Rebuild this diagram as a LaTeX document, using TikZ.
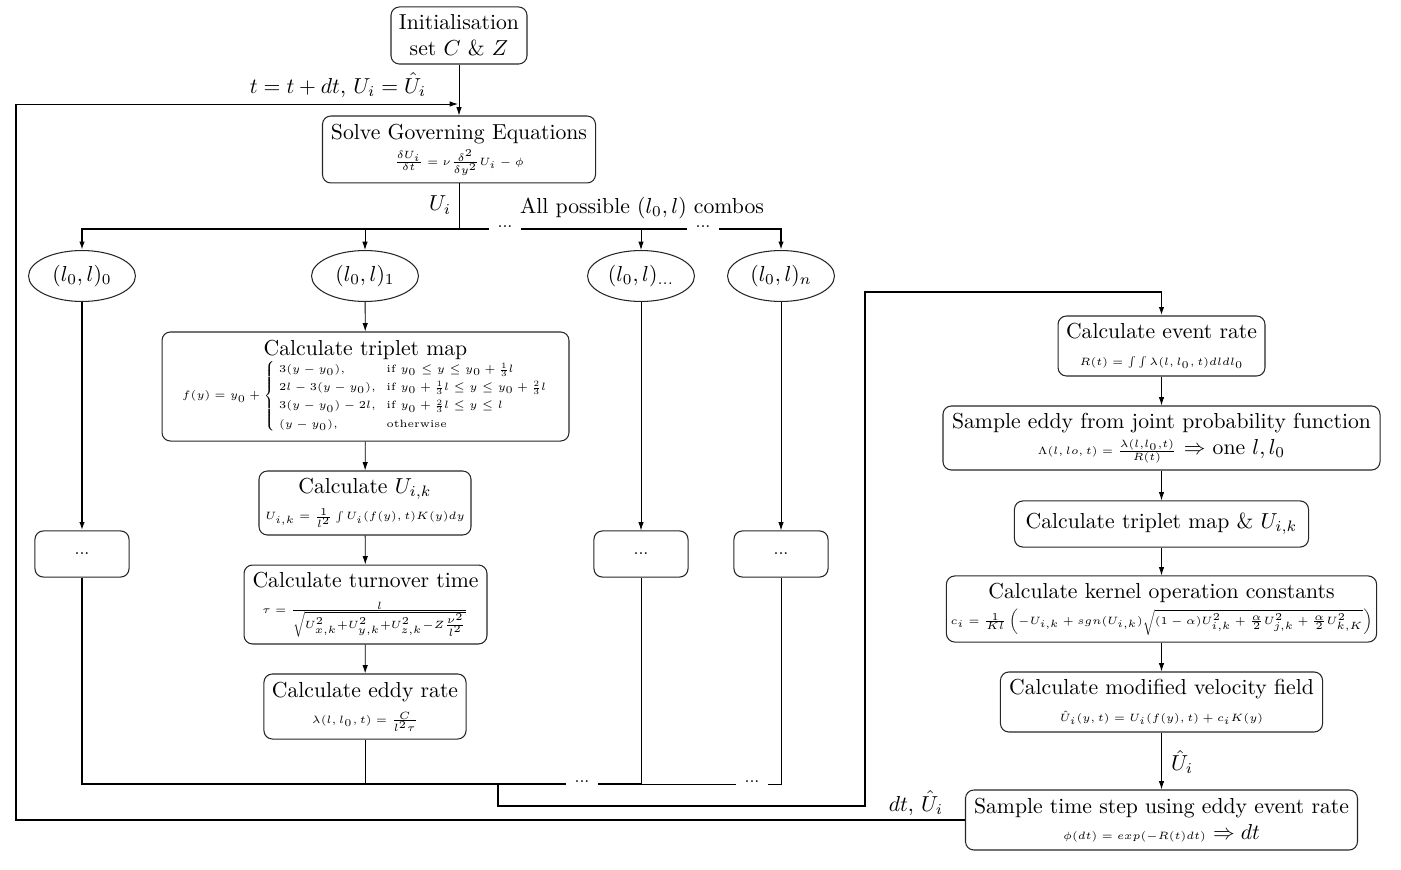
\RequirePackage{fix-cm}
\documentclass[tikz,border=0pt]{standalone}
\usepackage{amsmath}
\usepackage{graphicx}
\usetikzlibrary{arrows.meta,shapes.geometric}
\DeclareMathSizes{5.05}{5.05}{5}{5}
\newcommand\formsz{\fontsize{5.05}{7.2}\selectfont}
\newcommand\mainsz{\fontsize{10.3}{12.4}\selectfont}
\newcommand\smfr[2]{\vcenter{\hbox{\scalebox{0.78}{$\frac{#1}{#2}$}}}}
\tikzset{
 every node/.style={font=\mainsz},
 box/.style={draw=black!85, line width=0.5pt, rounded corners=4pt, align=center, inner sep=2pt},
 oval/.style={draw=black!85, line width=0.5pt, ellipse, minimum width=50.8pt, minimum height=24.2pt, inner sep=1pt},
 arr/.style={-{Latex[length=4pt,width=2.6pt]}, line width=0.4pt},
 tarr/.style={-{Latex[length=4pt,width=2.6pt]}, line width=0.9pt},
 thk/.style={line width=0.9pt},
 thn/.style={line width=0.4pt},
 dotlbl/.style={inner xsep=3.8pt, inner ysep=1.2pt, font=\footnotesize},
}
\begin{document}
\begin{tikzpicture}[x=0.475pt,y=-0.475pt]
\useasboundingbox (0,0) rectangle (1401,870);
% ---- top
\node[box,minimum width=64.6pt,minimum height=27.1pt] (init) at (459,35.5) {Initialisation\\set $C$ \& $Z$};
\node[box,minimum width=129.7pt,minimum height=31.8pt] (solve) at (459,149.5) {Solve Governing Equations\\{\formsz$\frac{\delta U_i}{\delta t} = \nu\frac{\delta^2}{\delta y^2}U_i - \phi$}};
\node (fblbl) at (338,85) {$t = t + dt$, $U_i = \hat{U}_i$};
\node (uilbl) at (440,205) {$U_i$};
\node (combo) at (642,208) {All possible $(l_0,l)$ combos};
% ---- ellipses
\node[oval] (e0) at (82,276) {$(l_0,l)_0$};
\node[oval] (e1) at (365,276) {$(l_0,l)_1$};
\node[oval] (e2) at (641,276) {$(l_0,l)_{\ldots}$};
\node[oval] (en) at (781,276) {$(l_0,l)_n$};
% ---- left column
\node[box,minimum width=193.3pt,minimum height=51.8pt] (trip) at (365.5,386.5) {Calculate triplet map\\[-1pt]{\formsz$f(y) = y_0 + \begin{cases} \;3(y-y_0), & \text{if } y_0 \le y \le y_0+\smfr{1}{3}l\\ \;2l-3(y-y_0), & \text{if } y_0+\smfr{1}{3}l \le y \le y_0+\smfr{2}{3}l\\ \;3(y-y_0)-2l, & \text{if } y_0+\smfr{2}{3}l \le y \le l\\ \;(y-y_0), & \text{otherwise}\end{cases}$}};
\node[box,minimum width=100.7pt,minimum height=30.4pt] (uik) at (365,503) {Calculate $U_{i,k}$\\{\formsz$U_{i,k} = \frac{1}{l^2}\int U_i(f(y),t)K(y)dy$}};
\node[box,minimum width=115.4pt,minimum height=37.5pt] (turn) at (365.5,604.5) {Calculate turnover time\\{\formsz$\tau = \frac{l}{\sqrt{U_{x,k}^2+U_{y,k}^2+U_{z,k}^2-Z\frac{\nu^2}{l^2}}}$}};
\node[box,minimum width=96pt,minimum height=30.9pt] (eddy) at (365,706.5) {Calculate eddy rate\\{\formsz$\lambda(l,l_0,t) = \frac{C}{l^2\tau}$}};
% ---- dots boxes
\node[box,minimum width=44.7pt,minimum height=21.9pt] (dl) at (82,554) {\footnotesize ...};
\node[box,minimum width=44.7pt,minimum height=21.9pt] (dm) at (641,554) {\footnotesize ...};
\node[box,minimum width=44.7pt,minimum height=21.9pt] (dn) at (781,554) {\footnotesize ...};
% ---- right column
\node[box,minimum width=98.3pt,minimum height=28.5pt] (event) at (1161.5,346) {Calculate event rate\\{\formsz$R(t) = \int\int\lambda(l,l_0,t)dldl_0$}};
\node[box,minimum width=207.6pt,minimum height=30.4pt] (samp) at (1161.5,438) {Sample eddy from joint probability function\\{\formsz$\Lambda(l,lo,t) = \frac{\lambda(l,l_0,t)}{R(t)}$} $\Rightarrow$ one $l, l_0$};
\node[box,minimum width=139.7pt,minimum height=21.9pt] (trip2) at (1161.5,524) {Calculate triplet map \& $U_{i,k}$};
\node[box,minimum width=202.8pt,minimum height=31.4pt] (kern) at (1161.5,609) {Calculate kernel operation constants\\{\formsz$c_i = \frac{1}{Kl}\left(-U_{i,k} + sgn(U_{i,k})\sqrt{(1-\alpha)U_{i,k}^2 + \frac{\alpha}{2}U_{j,k}^2 + \frac{\alpha}{2}U_{k,K}^2}\right)$}};
\node[box,minimum width=153pt,minimum height=28.5pt] (modv) at (1161.5,702) {Calculate modified velocity field\\{\formsz$\hat{U}_i(y,t) = U_i(f(y),t) + c_iK(y)$}};
\node[box,minimum width=186.2pt,minimum height=28.5pt] (tstep) at (1161.5,820) {Sample time step using eddy event rate\\{\formsz$\phi(dt) = exp(-R(t)dt)$} $\Rightarrow dt$};
\node (uhat) at (1182,762) {$\hat{U}_i$};
\node (dtlbl) at (916,803) {$dt$, $\hat{U}_i$};
% ---- junctions and dots on lines
\coordinate (j0) at (459,229);
\node[dotlbl] (d1) at (505,227) {...};
\node[dotlbl] (d2) at (703,227) {...};
\coordinate (bl) at (82,784);
\coordinate (jb) at (498,784);
\node[dotlbl] (b1) at (582,782) {...};
\node[dotlbl] (b2) at (752,782) {...};
\coordinate (r1) at (498,806);
\coordinate (r2) at (865,806);
\coordinate (r3) at (865,292);
\coordinate (lp1) at (16,820);
\coordinate (lp2) at (16,104);
\coordinate (fb) at (458,104);
% ---- connectors top
\draw[arr] (init) -- (solve);
\draw[thn] (solve) -- (j0);
\draw[tarr] (j0) -| (e0);
\draw[thk] (j0) -- (d1.west |- j0);
\draw[thk] (d1.east |- j0) -- (d2.west |- j0);
\draw[tarr] (d2.east |- j0) -| (en);
\draw[arr] (e1 |- j0) -- (e1);
\draw[arr] (e2 |- j0) -- (e2);
% ---- left column
\draw[arr] (e1) -- (trip);
\draw[arr] (trip) -- (uik);
\draw[arr] (uik) -- (turn);
\draw[arr] (turn) -- (eddy);
\draw[tarr] (e0) -- (dl);
\draw[arr] (e2) -- (dm);
\draw[arr] (en) -- (dn);
% ---- bottom collector
\draw[thk] (dl) -- (bl) -- (b1.west |- bl);
\draw[thk] (b1.east |- bl) -- (dm |- bl);
\draw[thn] (dm |- bl) -- (b2.west |- bl);
\draw[thn] (b2.east |- bl) -| (dn);
\draw[thn] (eddy) -- (eddy |- bl);
\draw[thn] (dm) -- (dm |- bl);
\draw[tarr] (jb) -- (r1) -- (r2) -- (r3) -| (event);
% ---- right column
\draw[arr] (event) -- (samp);
\draw[arr] (samp) -- (trip2);
\draw[arr] (trip2) -- (kern);
\draw[arr] (kern) -- (modv);
\draw[arr] (modv) -- (tstep);
% ---- loop back
\draw[thk] (tstep) -- (lp1) -- (lp2);
\draw[arr] (lp2) -- (fb);
\end{tikzpicture}
\end{document}
